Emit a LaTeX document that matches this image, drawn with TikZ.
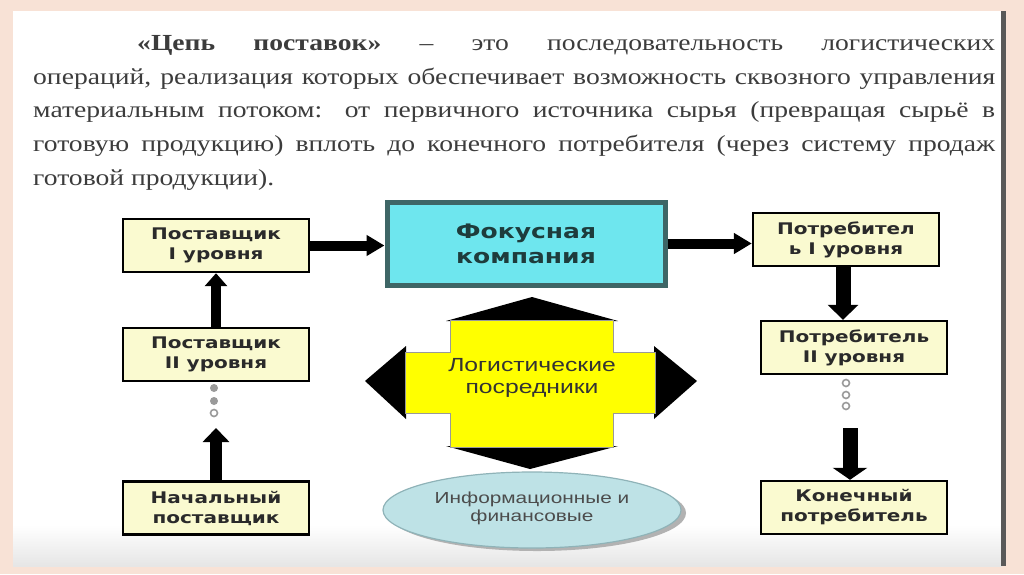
\documentclass[tikz,border=0pt]{standalone}
\usepackage{fontspec}
\usetikzlibrary{arrows.meta,shapes.geometric,calc}
\newfontfamily\parafont[FakeStretch=1.2]{Liberation Serif}
\newfontfamily\boxfont[FakeStretch=1.25]{DejaVu Sans}
\newfontfamily\labfont[FakeStretch=1.3]{Liberation Sans}
\definecolor{pinkbg}{HTML}{F8E2D6}
\definecolor{boxfill}{HTML}{FAFAD0}
\definecolor{boxtext}{HTML}{2A2A2A}
\definecolor{focfill}{HTML}{6EE6EE}
\definecolor{focline}{HTML}{3E6666}
\definecolor{foctext}{HTML}{1E3C3C}
\definecolor{paratext}{HTML}{3C3C3C}
\definecolor{crossyel}{HTML}{FFFF00}
\definecolor{ellfill}{HTML}{BEE2E6}
\definecolor{ellline}{HTML}{8FB3B8}
\definecolor{dotgray}{HTML}{9A9A9A}
\begin{document}
\begin{tikzpicture}[x=1pt,y=-1pt,
  box/.style={draw=black, line width=2.4pt, fill=boxfill, minimum width=186pt, minimum height=53pt,
    inner sep=0pt, align=center, text=boxtext,
    font=\boxfont\bfseries\fontsize{16}{20}\selectfont},
  focusbox/.style={draw=focline, line width=5pt, fill=focfill, minimum width=278pt, minimum height=83pt,
    inner sep=0pt, align=center, text=foctext,
    font=\boxfont\bfseries\fontsize{20}{25}\selectfont},
  dotc/.style={draw=dotgray, line width=1.6pt}
]
\useasboundingbox (0,0) rectangle (1024,574);
% background
\fill[pinkbg] (0,0) rectangle (1024,574);
\fill[white] (13,11) rectangle (1002,566);
\shade[top color=white, bottom color=black!10] (13,525) rectangle (1002,566);
\fill[black!65] (1001,11) rectangle (1006,566);

% paragraph
\node[anchor=north west, inner sep=0pt, text width=962pt, align=justify, text=paratext,
  font=\parafont\fontsize{23}{33.8}\selectfont] (para) at (33,35)
{\hspace*{104pt}{\bfseries «Цепь поставок»} – это последовательность логистических\linebreak
операций, реализация которых обеспечивает возможность сквозного управления\linebreak
материальным потоком: от первичного источника сырья (превращая сырьё в\linebreak
готовую продукцию) вплоть до конечного потребителя (через систему продаж\linebreak
готовой продукции).};

% boxes
\node[box] (s1) at (216,245.5) {Поставщик\\I уровня};
\node[box] (s2) at (216,354.5) {Поставщик\\II уровня};
\node[box] (s0) at (216,508) {Начальный\\поставщик};
\node[focusbox] (f) at (526,243.5) {Фокусная\\компания};
\node[box] (c1) at (846,239.5) {Потребител\\ь I уровня};
\node[box] (c2) at (854,347.5) {Потребитель\\II уровня};
\node[box] (c3) at (854,507.5) {Конечный\\потребитель};

% arrows
\draw[line width=10pt,-{Triangle[width=22pt,length=13pt]}] (s2.north) -- (s1.south);
\draw[line width=10pt,-{Triangle[width=20pt,length=18pt]}] (s1.east) -- (s1.east -| f.west);
\draw[line width=10pt,-{Triangle[width=20pt,length=18pt]}] (f.east) -- (f.east -| c1.west);
\coordinate (a1) at ($(c1.south)+(-3,0)$);
\draw[line width=15pt,-{Triangle[width=30pt,length=15pt]}] (a1) -- (a1 |- c2.north);
\coordinate (l3) at (216,428);
\draw[line width=12pt,-{Triangle[width=26pt,length=14pt]}] (s0.north) -- (l3);
\coordinate (r3) at (850,428);
\draw[line width=15pt,-{Triangle[width=34pt,length=12pt]}] (r3) -- (r3 |- c3.north);

% dots
\fill[dotgray] (214,388) circle (4);
\fill[dotgray] (214,401) circle (4);
\draw[dotc] (214,413) circle (3.5);
\foreach \yy in {383,395,406} \draw[dotc] (846,\yy) circle (3.5);

% cross
\fill[black] (446,321) -- (532,297) -- (618,321) -- cycle;
\fill[black] (446,446) -- (530,469) -- (618,446) -- cycle;
\fill[black] (406,346) -- (365,381) -- (406,419) -- cycle;
\fill[black] (654,346) -- (697,381) -- (654,419) -- cycle;
\filldraw[fill=crossyel, draw=black!40, line width=0.6pt]
  (450,320) -- (613,320) -- (613,352) -- (655,352) -- (655,413) -- (613,413) -- (613,447)
  -- (450,447) -- (450,413) -- (405,413) -- (405,352) -- (450,352) -- cycle;
\node[align=center, text=black!80, font=\labfont\fontsize{19}{22}\selectfont] (lp) at (532,378)
  {Логистические\\посредники};

% ellipse
\fill[black!30] (537,513) ellipse (149 and 38);
\node[ellipse, draw=ellline, line width=1.2pt, fill=ellfill, minimum width=298pt, minimum height=76pt,
  inner sep=0pt, align=center, text=black!70, font=\labfont\fontsize{16}{18}\selectfont] (e) at (532,510)
  {\raisebox{6pt}{\shortstack{Информационные и\\финансовые}}};
\end{tikzpicture}
\end{document}
